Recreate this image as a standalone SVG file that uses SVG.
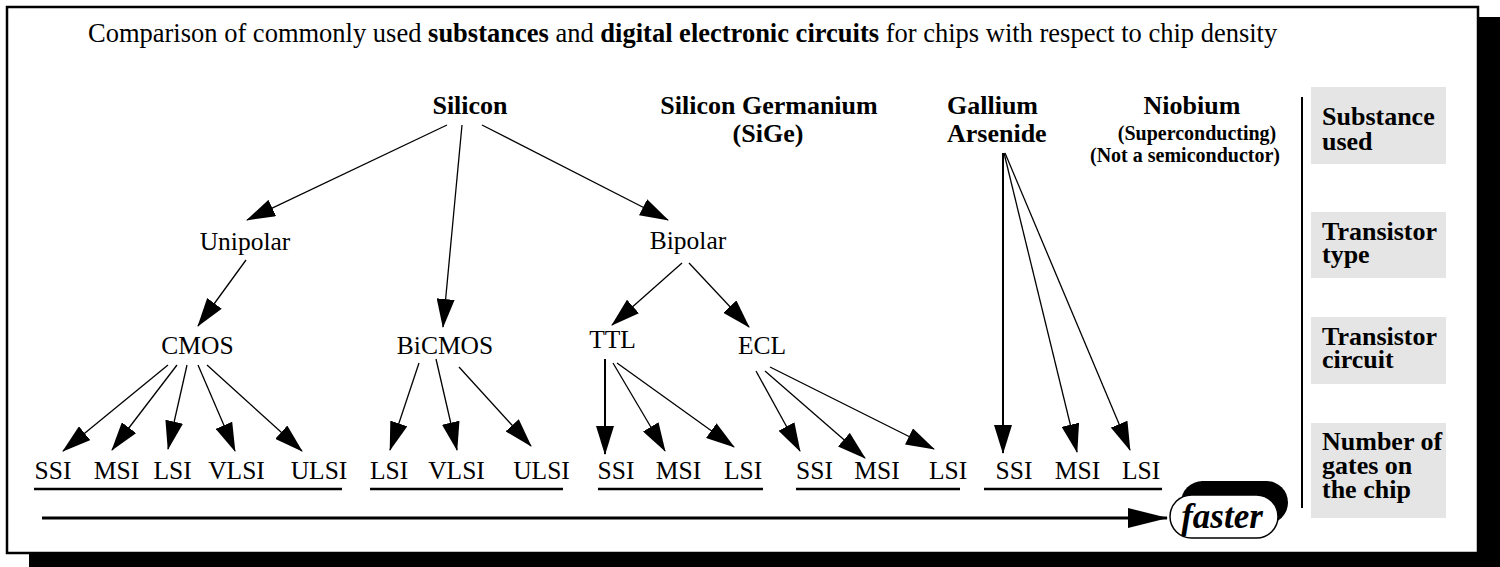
<svg xmlns="http://www.w3.org/2000/svg" width="1500" height="567" viewBox="0 0 1500 567">
<style>
text{font-family:"Liberation Serif","Times New Roman",serif;fill:#000}
.t{font-size:26.5px}
.b{font-weight:bold}
.h{font-size:26px;font-weight:bold}
.s{font-size:20px;font-weight:bold}
.n{font-size:25.5px;text-anchor:middle}
.r{font-size:26px;font-weight:bold}
.c{text-anchor:middle}
.e{stroke:#000;stroke-width:1.3;fill:none;marker-end:url(#ah)}
.u{stroke:#000;stroke-width:2.5}
.g{fill:#e5e5e5}
</style>
<defs>
<marker id="ah" markerUnits="userSpaceOnUse" markerWidth="29" markerHeight="18" refX="28" refY="9" orient="auto" viewBox="0 0 29 18">
<path d="M0,0 L29,9 L0,18 Z" fill="#000"/>
</marker>
<marker id="big" markerUnits="userSpaceOnUse" markerWidth="40" markerHeight="20" refX="39" refY="10" orient="auto" viewBox="0 0 40 20">
<path d="M0,0 L40,10 L0,20 Z" fill="#000"/>
</marker>
</defs>
<rect x="29" y="17" width="1480" height="560" fill="#000"/>
<rect x="7" y="7" width="1471" height="546" fill="#fff" stroke="#000" stroke-width="2.5"/>
<text id="title" class="t" x="88" y="42">Comparison of commonly used <tspan class="b">substances</tspan> and <tspan class="b">digital electronic circuits</tspan> for chips with respect to chip density</text>
<g id="connectors">
<line class="e" x1="447" y1="125" x2="247" y2="220"/>
<line class="e" x1="462" y1="125" x2="443" y2="327"/>
<line class="e" x1="482" y1="125" x2="668" y2="220"/>
<line class="e" x1="246" y1="260" x2="198" y2="326"/>
<line class="e" x1="682" y1="263" x2="612" y2="325"/>
<line class="e" x1="689" y1="263" x2="749" y2="327"/>
<line class="e" x1="168" y1="365" x2="63" y2="451"/>
<line class="e" x1="177" y1="365" x2="112" y2="450"/>
<line class="e" x1="187" y1="365" x2="168" y2="449"/>
<line class="e" x1="198" y1="365" x2="235" y2="451"/>
<line class="e" x1="207" y1="365" x2="302" y2="451"/>
<line class="e" x1="419" y1="363" x2="390" y2="450"/>
<line class="e" x1="436" y1="359" x2="457" y2="450"/>
<line class="e" x1="459" y1="367" x2="531" y2="446"/>
<line class="e" x1="605" y1="359" x2="605" y2="454" style="stroke-width:2"/>
<line class="e" x1="613" y1="363" x2="665" y2="451"/>
<line class="e" x1="617" y1="363" x2="734" y2="447"/>
<line class="e" x1="756" y1="371" x2="800" y2="451"/>
<line class="e" x1="765" y1="371" x2="865" y2="458"/>
<line class="e" x1="770" y1="367" x2="934" y2="449"/>
<line class="e" x1="1003" y1="153" x2="1003" y2="453" style="stroke-width:2"/>
<line class="e" x1="1004" y1="153" x2="1077" y2="452"/>
<line class="e" x1="1005" y1="153" x2="1130" y2="450"/>
<line x1="42" y1="518" x2="1167" y2="518" stroke="#000" stroke-width="3" marker-end="url(#big)"/>
</g>
<g id="underlines">
<line class="u" x1="34" y1="489" x2="342" y2="489"/>
<line class="u" x1="370" y1="489" x2="563" y2="489"/>
<line class="u" x1="598" y1="489" x2="763" y2="489"/>
<line class="u" x1="796" y1="489" x2="960" y2="489"/>
<line class="u" x1="984" y1="489" x2="1162" y2="489"/>
</g>
<g id="silicon"><text class="h c" x="470" y="114">Silicon</text></g>
<g id="sige"><text class="h c" x="769" y="114">Silicon Germanium</text><text class="h c" x="768" y="142">(SiGe)</text></g>
<g id="gaas"><text class="h" x="947" y="114">Gallium</text><text class="h" x="947" y="142">Arsenide</text></g>
<g id="niobium"><text class="h c" x="1192" y="114">Niobium</text><text class="s c" x="1197" y="140">(Superconducting)</text><text class="s c" x="1185" y="162">(Not a semiconductor)</text></g>
<g id="unipolar"><text class="n" x="245" y="250">Unipolar</text></g>
<g id="bipolar"><text class="n" x="688" y="249">Bipolar</text></g>
<g id="cmos"><text class="n" x="197.5" y="354">CMOS</text></g>
<g id="bicmos"><text class="n" x="445" y="354">BiCMOS</text></g>
<g id="ttl"><text class="n" x="612.5" y="348">TTL</text></g>
<g id="ecl"><text class="n" x="762" y="354">ECL</text></g>
<g id="cmos-ssi"><text class="n" x="53" y="479">SSI</text></g>
<g id="cmos-msi"><text class="n" x="116.5" y="479">MSI</text></g>
<g id="cmos-lsi"><text class="n" x="172.5" y="479">LSI</text></g>
<g id="cmos-vlsi"><text class="n" x="236.5" y="479">VLSI</text></g>
<g id="cmos-ulsi"><text class="n" x="319" y="479">ULSI</text></g>
<g id="bicmos-lsi"><text class="n" x="389" y="479">LSI</text></g>
<g id="bicmos-vlsi"><text class="n" x="456.5" y="479">VLSI</text></g>
<g id="bicmos-ulsi"><text class="n" x="541.5" y="479">ULSI</text></g>
<g id="ttl-ssi"><text class="n" x="616" y="479">SSI</text></g>
<g id="ttl-msi"><text class="n" x="678.5" y="479">MSI</text></g>
<g id="ttl-lsi"><text class="n" x="743" y="479">LSI</text></g>
<g id="ecl-ssi"><text class="n" x="814.5" y="479">SSI</text></g>
<g id="ecl-msi"><text class="n" x="877" y="479">MSI</text></g>
<g id="ecl-lsi"><text class="n" x="948" y="479">LSI</text></g>
<g id="gaas-ssi"><text class="n" x="1014" y="479">SSI</text></g>
<g id="gaas-msi"><text class="n" x="1077.5" y="479">MSI</text></g>
<g id="gaas-lsi"><text class="n" x="1141" y="479">LSI</text></g>
<g id="faster">
<rect x="1181" y="481" width="107" height="43" rx="21.5" fill="#000"/>
<rect x="1170" y="495" width="108" height="43" rx="21.5" fill="#fff" stroke="#000" stroke-width="1.5"/>
<text x="1222" y="528" style="font-size:35px;font-weight:bold;font-style:italic;text-anchor:middle">faster</text>
</g>
<line id="separator" x1="1302" y1="97" x2="1302" y2="508" stroke="#000" stroke-width="2"/>
<g id="legend-substance"><rect class="g" x="1311" y="87" width="135" height="77"/><text class="r" x="1322" y="125">Substance</text><text class="r" x="1322" y="150">used</text></g>
<g id="legend-type"><rect class="g" x="1311" y="212" width="135" height="66"/><text class="r" x="1322" y="240">Transistor</text><text class="r" x="1322" y="263">type</text></g>
<g id="legend-circuit"><rect class="g" x="1311" y="317" width="135" height="67"/><text class="r" x="1322" y="345">Transistor</text><text class="r" x="1322" y="368">circuit</text></g>
<g id="legend-gates"><rect class="g" x="1311" y="423" width="135" height="95"/><text class="r" x="1322" y="450">Number of</text><text class="r" x="1322" y="474">gates on</text><text class="r" x="1322" y="498">the chip</text></g>
</svg>
